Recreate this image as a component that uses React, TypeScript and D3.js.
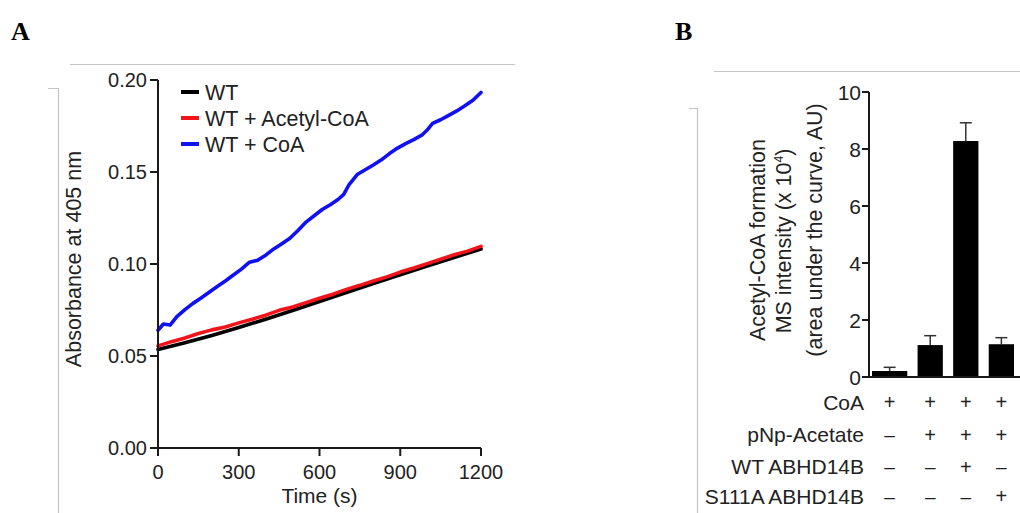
import React from "react";
import * as d3 from "d3";

// ---- panel A: absorbance time course ----
const timeTicks = [0, 300, 600, 900, 1200];
const absTicks = [0, 0.05, 0.1, 0.15, 0.2];

const seriesNames = ["WT", "WT + Acetyl-CoA", "WT + CoA"];
const seriesColors = ["#000000", "#f2131b", "#1010f5"];

const wt: [number, number][] = [
  [0, 0.0535], [100, 0.0572], [200, 0.0612], [300, 0.0655], [400, 0.07],
  [500, 0.0747], [600, 0.0796], [700, 0.0845], [800, 0.0894], [900, 0.0942],
  [1000, 0.0989], [1100, 0.1035], [1200, 0.1082],
];

const wtAcetylCoA: [number, number][] = [
  [0, 0.0555], [50, 0.0578], [100, 0.0598], [150, 0.0622], [200, 0.0642],
  [250, 0.0658], [300, 0.068], [350, 0.07], [400, 0.0722], [450, 0.0748],
  [500, 0.0766], [550, 0.079], [600, 0.0814], [650, 0.0836], [700, 0.0862],
  [750, 0.0884], [800, 0.0908], [850, 0.093], [900, 0.0956], [950, 0.0978],
  [1000, 0.1002], [1050, 0.1026], [1100, 0.105], [1150, 0.107], [1200, 0.1096],
];

const wtCoA: [number, number][] = [
  [0, 0.064], [20, 0.0674], [45, 0.0668], [70, 0.0714], [100, 0.0752],
  [130, 0.0786], [160, 0.0815], [190, 0.0846], [220, 0.0878], [250, 0.0908],
  [280, 0.094], [310, 0.0972], [340, 0.101], [370, 0.102], [400, 0.1048],
  [430, 0.1082], [460, 0.111], [490, 0.114], [520, 0.1182], [550, 0.1228],
  [580, 0.1262], [610, 0.1296], [640, 0.1322], [670, 0.1352], [690, 0.1378],
  [710, 0.1432], [740, 0.1486], [770, 0.1512], [800, 0.1538], [830, 0.1566],
  [860, 0.16], [890, 0.163], [920, 0.1654], [950, 0.1676], [980, 0.17],
  [1000, 0.1728], [1020, 0.1764], [1050, 0.1784], [1080, 0.1808],
  [1110, 0.1832], [1140, 0.186], [1170, 0.189], [1200, 0.1932],
];

// ---- panel B: acetyl-CoA formation ----
const groups = ["g1", "g2", "g3", "g4"];
const means = [0.21, 1.12, 8.28, 1.15];
const errors = [0.13, 0.33, 0.64, 0.23];
const msTicks = [0, 2, 4, 6, 8, 10];
const conditions = ["CoA", "pNp-Acetate", "WT ABHD14B", "S111A ABHD14B"];
const present = [
  [1, 1, 1, 1],
  [0, 1, 1, 1],
  [0, 0, 1, 0],
  [0, 0, 0, 1],
];

const FONT = "'Liberation Sans', Arial, Helvetica, sans-serif";

export default function App() {
  const width = 1020;
  const height = 513;

  const x = d3.scaleLinear().domain([0, 1200]).range([158, 481]);
  const y = d3.scaleLinear().domain([0, 0.2]).range([448, 80]);
  const line = d3
    .line<[number, number]>()
    .x((d) => x(d[0]))
    .y((d) => y(d[1]));
  const series = [wt, wtAcetylCoA, wtCoA];

  const axB = 869;
  const yb = d3.scaleLinear().domain([0, 10]).range([377, 92]);
  const xb = d3.scaleBand().domain(groups).range([882, 1014]).paddingInner(0.29);
  const barLeft = (i: number) => (i === 0 ? axB + 3 : xb(groups[i])!);
  const barRight = (i: number) => xb(groups[i])! + xb.bandwidth();
  const barMid = (i: number) => (barLeft(i) + barRight(i)) / 2;
  const rowY = [402, 434.5, 466.5, 496];

  const axisStroke = "#1a1a1a";

  return (
    <svg
      width={width}
      height={height}
      style={{ position: "absolute", left: 0, top: 0, background: "#fff" }}
      fontFamily={FONT}
    >
      <rect width={width} height={height} fill="#fff" />

      {/* panel letters */}
      <text x={11} y={40} fontFamily="'Liberation Serif', 'Times New Roman', serif" fontWeight="bold" fontSize={26}>A</text>
      <text x={675} y={40} fontFamily="'Liberation Serif', 'Times New Roman', serif" fontWeight="bold" fontSize={26}>B</text>

      {/* faint frame remnants */}
      <g stroke="#c4c4c4" strokeWidth={1.2} fill="none">
        <path d="M70,64.5H515" />
        <path d="M48,88.5H58.5V513" />
        <path d="M714,71.5H1020" />
        <path d="M689,108.5H697.5V513" />
      </g>

      {/* ---- Panel A ---- */}
      <g>
        {series.map((s, i) => (
          <path key={i} d={line(s)!} fill="none" stroke={seriesColors[i]} strokeWidth={3.6} strokeLinejoin="round" strokeLinecap="round" />
        ))}
        <g stroke={axisStroke} strokeWidth={2}>
          <line x1={x(0)} x2={x(0)} y1={y(0.2)} y2={y(0)} />
          <line x1={x(0)} x2={x(1200)} y1={y(0)} y2={y(0)} />
          {absTicks.map((t) => (
            <line key={t} x1={x(0) - 8} x2={x(0)} y1={y(t)} y2={y(t)} />
          ))}
          {timeTicks.map((t) => (
            <line key={t} x1={x(t)} x2={x(t)} y1={y(0)} y2={y(0) + 8} />
          ))}
        </g>
        <g fontSize={20} fill="#222">
          {absTicks.map((t) => (
            <text key={t} x={x(0) - 11} y={y(t)} dy="0.36em" textAnchor="end">
              {d3.format(".2f")(t)}
            </text>
          ))}
          {timeTicks.map((t) => (
            <text key={t} x={x(t)} y={472} dy="0.36em" textAnchor="middle">
              {t}
            </text>
          ))}
          <text x={x(600)} y={503} textAnchor="middle" fontSize={21}>Time (s)</text>
          <text transform={`translate(81,${259}) rotate(-90)`} textAnchor="middle" fontSize={21.5}>
            Absorbance at 405 nm
          </text>
        </g>
        <g fontSize={21.5} fill="#222">
          {seriesNames.map((n, i) => {
            const ly = 92 + i * 26;
            return (
              <g key={n}>
                <line x1={181} x2={199} y1={ly} y2={ly} stroke={seriesColors[i]} strokeWidth={4} />
                <text x={205} y={ly} dy="0.36em">{n}</text>
              </g>
            );
          })}
        </g>
      </g>

      {/* ---- Panel B ---- */}
      <g>
        {groups.map((g, i) => (
          <g key={g}>
            <line x1={barMid(i)} x2={barMid(i)} y1={yb(means[i])} y2={yb(means[i] + errors[i])} stroke="#333" strokeWidth={1.5} />
            <line x1={barMid(i) - 6} x2={barMid(i) + 6} y1={yb(means[i] + errors[i])} y2={yb(means[i] + errors[i])} stroke="#333" strokeWidth={1.5} />
            <rect x={barLeft(i)} y={yb(means[i])} width={barRight(i) - barLeft(i)} height={yb(0) - yb(means[i])} fill="#000" />
          </g>
        ))}
        <g stroke={axisStroke} strokeWidth={2}>
          <line x1={axB} x2={axB} y1={yb(10)} y2={yb(0)} />
          <line x1={axB} x2={1020} y1={yb(0)} y2={yb(0)} />
          {msTicks.map((t) => (
            <line key={t} x1={axB - 7} x2={axB} y1={yb(t)} y2={yb(t)} />
          ))}
        </g>
        <g fontSize={21} fill="#222">
          {msTicks.map((t) => (
            <text key={t} x={axB - 8} y={yb(t)} dy="0.36em" textAnchor="end">{t}</text>
          ))}
          <g fontSize={21.5} textAnchor="middle">
            <text transform="translate(765,240) rotate(-90)">Acetyl-CoA formation</text>
            <text transform="translate(791,241) rotate(-90)">
              MS intensity (x 10<tspan fontSize={12} dy={-8}>4</tspan><tspan dy={8}>)</tspan>
            </text>
            <text transform="translate(822,230) rotate(-90)">(area under the curve, AU)</text>
          </g>
          {conditions.map((c, r) => (
            <g key={c}>
              <text x={864} y={rowY[r]} dy="0.36em" textAnchor="end">{c}</text>
              {present[r].map((p, i) => (
                <text key={i} x={barMid(i)} y={rowY[r]} dy="0.36em" textAnchor="middle" fontSize={p ? 20 : 19}>
                  {p ? "+" : "\u2013"}
                </text>
              ))}
            </g>
          ))}
        </g>
      </g>
    </svg>
  );
}
